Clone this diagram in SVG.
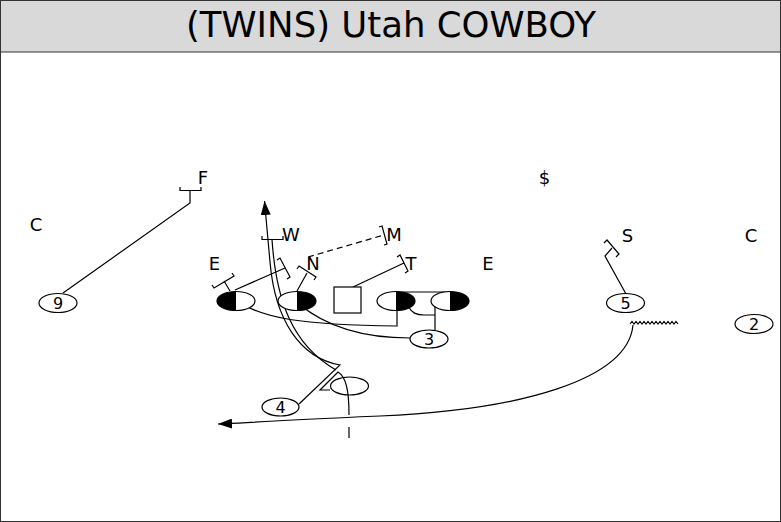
<svg xmlns="http://www.w3.org/2000/svg" width="781" height="522" viewBox="0 0 781 522">
<style>
.ln{fill:none;stroke:#000;stroke-width:1.2}
.el{fill:#fff;stroke:#000;stroke-width:1.2}
.lbl{font-family:"DejaVu Sans",sans-serif;font-size:18px;fill:#000;text-anchor:middle}
.num{font-family:"DejaVu Sans",sans-serif;font-size:16px;fill:#000;text-anchor:middle}
</style>
<defs>
<marker id="arr" viewBox="0 0 14 10" refX="14" refY="5" markerWidth="14" markerHeight="10" markerUnits="userSpaceOnUse" orient="auto" preserveAspectRatio="none"><path d="M0,0 L14,5 L0,10 z" fill="#000"/></marker>
</defs>
<rect x="0.5" y="0.5" width="780" height="521" fill="#fff" stroke="#333" stroke-width="1"/>
<g id="title">
<rect x="0.5" y="0.5" width="780" height="51.5" fill="#d9d9d9" stroke="#333" stroke-width="1"/>
<text x="391" y="37" font-family="DejaVu Sans, sans-serif" font-size="35.5" text-anchor="middle" fill="#000">(TWINS) Utah COWBOY</text>
</g>
<g id="connectors">
<path class="ln" d="M63,293 L190,203 L190,190 M180,187 L180,190.5 L201,190.5 L201,187"/>
<path class="ln" d="M299,404 L340,365 C300,358 275,320 270,262 L264.5,201" marker-end="url(#arr)"/>
<path class="ln" d="M262,236 L262,239.5 L283,239.5 L283,236 M272,239.5 C276,300 292,345 336,370"/>
<path class="ln" d="M330,390 L320,390 L338,372 C346,377 349,390 349,415 M349,427 L349,438"/>
<path class="ln" d="M633,325 C628,380 520,410 380,416 S250,423 218,424" marker-end="url(#arr)"/>
<path fill="none" stroke="#000" stroke-width="1.1" d="M630,324 l2,-2.5 l2,2.5 l2,-2.5 l2,2.5 l2,-2.5 l2,2.5 l2,-2.5 l2,2.5 l2,-2.5 l2,2.5 l2,-2.5 l2,2.5 l2,-2.5 l2,2.5 l2,-2.5 l2,2.5 l2,-2.5 l2,2.5 l2,-2.5 l2,2.5 l2,-2.5 l2,2.5 l2,-2.5 l2,2.5"/>
<path class="ln" d="M626,294 L605,256 L612,248 M604,243 L607,240 L619,254 L616,257"/>
<path class="ln" d="M230,291 L224,281 M212,285 L214,288 L234,276 L232,273"/>
<path class="ln" d="M235,290 L285,268 M277,260 L280,258 L290,277 L287,279"/>
<path class="ln" d="M297,291 L307,273 M297,269 L299,266 L316,277 L314,280"/>
<path class="ln" d="M308,257 L384,235" stroke-dasharray="6,4"/>
<path class="ln" d="M379,227 L382,226 L387,244 L384,245"/>
<path class="ln" d="M353,287 L404,263 M397,257 L400,255 L408,271 L405,273"/>
<path class="ln" d="M237,301 C262,318 300,325 397,326 L397,301"/>
<path class="ln" d="M299,304 C330,330 372,338 410,338"/>
<path class="ln" d="M396,292 L450,292"/>
<path class="ln" d="M408,306 C412,313 416,315 424,315 L435,315 M435,305 L435,330"/>
</g>
<g id="lineman-1"><ellipse class="el" cx="236" cy="301" rx="19" ry="9.5"/><path d="M236,291.5 A19,9.5 0 0 0 236,310.5 Z" fill="#000"/></g>
<g id="lineman-2"><ellipse class="el" cx="297" cy="301" rx="19" ry="9.5"/><path d="M297,291.5 A19,9.5 0 0 1 297,310.5 Z" fill="#000"/></g>
<g id="center"><rect x="334" y="287" width="27" height="26" fill="#fff" stroke="#000" stroke-width="1.2"/></g>
<g id="lineman-3"><ellipse class="el" cx="396" cy="301" rx="19" ry="9.5"/><path d="M396,291.5 A19,9.5 0 0 1 396,310.5 Z" fill="#000"/></g>
<g id="lineman-4"><ellipse class="el" cx="450" cy="301" rx="19" ry="9.5"/><path d="M450,291.5 A19,9.5 0 0 1 450,310.5 Z" fill="#000"/></g>
<g id="p9"><ellipse class="el" cx="58" cy="303" rx="19" ry="9.5"/><text class="num" x="58" y="309">9</text></g>
<g id="p3"><ellipse class="el" cx="429" cy="339" rx="19" ry="9"/><text class="num" x="429" y="345">3</text></g>
<g id="p5"><ellipse class="el" cx="625.5" cy="303" rx="19" ry="9.5"/><text class="num" x="625.5" y="309">5</text></g>
<g id="p2"><ellipse class="el" cx="754" cy="324" rx="19" ry="9.5"/><text class="num" x="754" y="330">2</text></g>
<g id="p4"><ellipse class="el" cx="280.5" cy="407" rx="18.5" ry="9"/><text class="num" x="280.5" y="413">4</text></g>
<g id="qb"><ellipse cx="349.5" cy="386" rx="19" ry="9" fill="none" stroke="#000" stroke-width="1.2"/></g>
<g id="def-C-left"><text class="lbl" x="36" y="231">C</text></g>
<g id="def-F"><text class="lbl" x="203" y="184">F</text></g>
<g id="def-dollar"><text class="lbl" x="544.5" y="184">$</text></g>
<g id="def-W"><text class="lbl" x="291" y="241">W</text></g>
<g id="def-M"><text class="lbl" x="394" y="241">M</text></g>
<g id="def-E-left"><text class="lbl" x="214.5" y="270">E</text></g>
<g id="def-N"><text class="lbl" x="313" y="270">N</text></g>
<g id="def-T"><text class="lbl" x="411" y="270">T</text></g>
<g id="def-E-right"><text class="lbl" x="488" y="270">E</text></g>
<g id="def-S"><text class="lbl" x="627.5" y="242">S</text></g>
<g id="def-C-right"><text class="lbl" x="751" y="242">C</text></g>
</svg>
